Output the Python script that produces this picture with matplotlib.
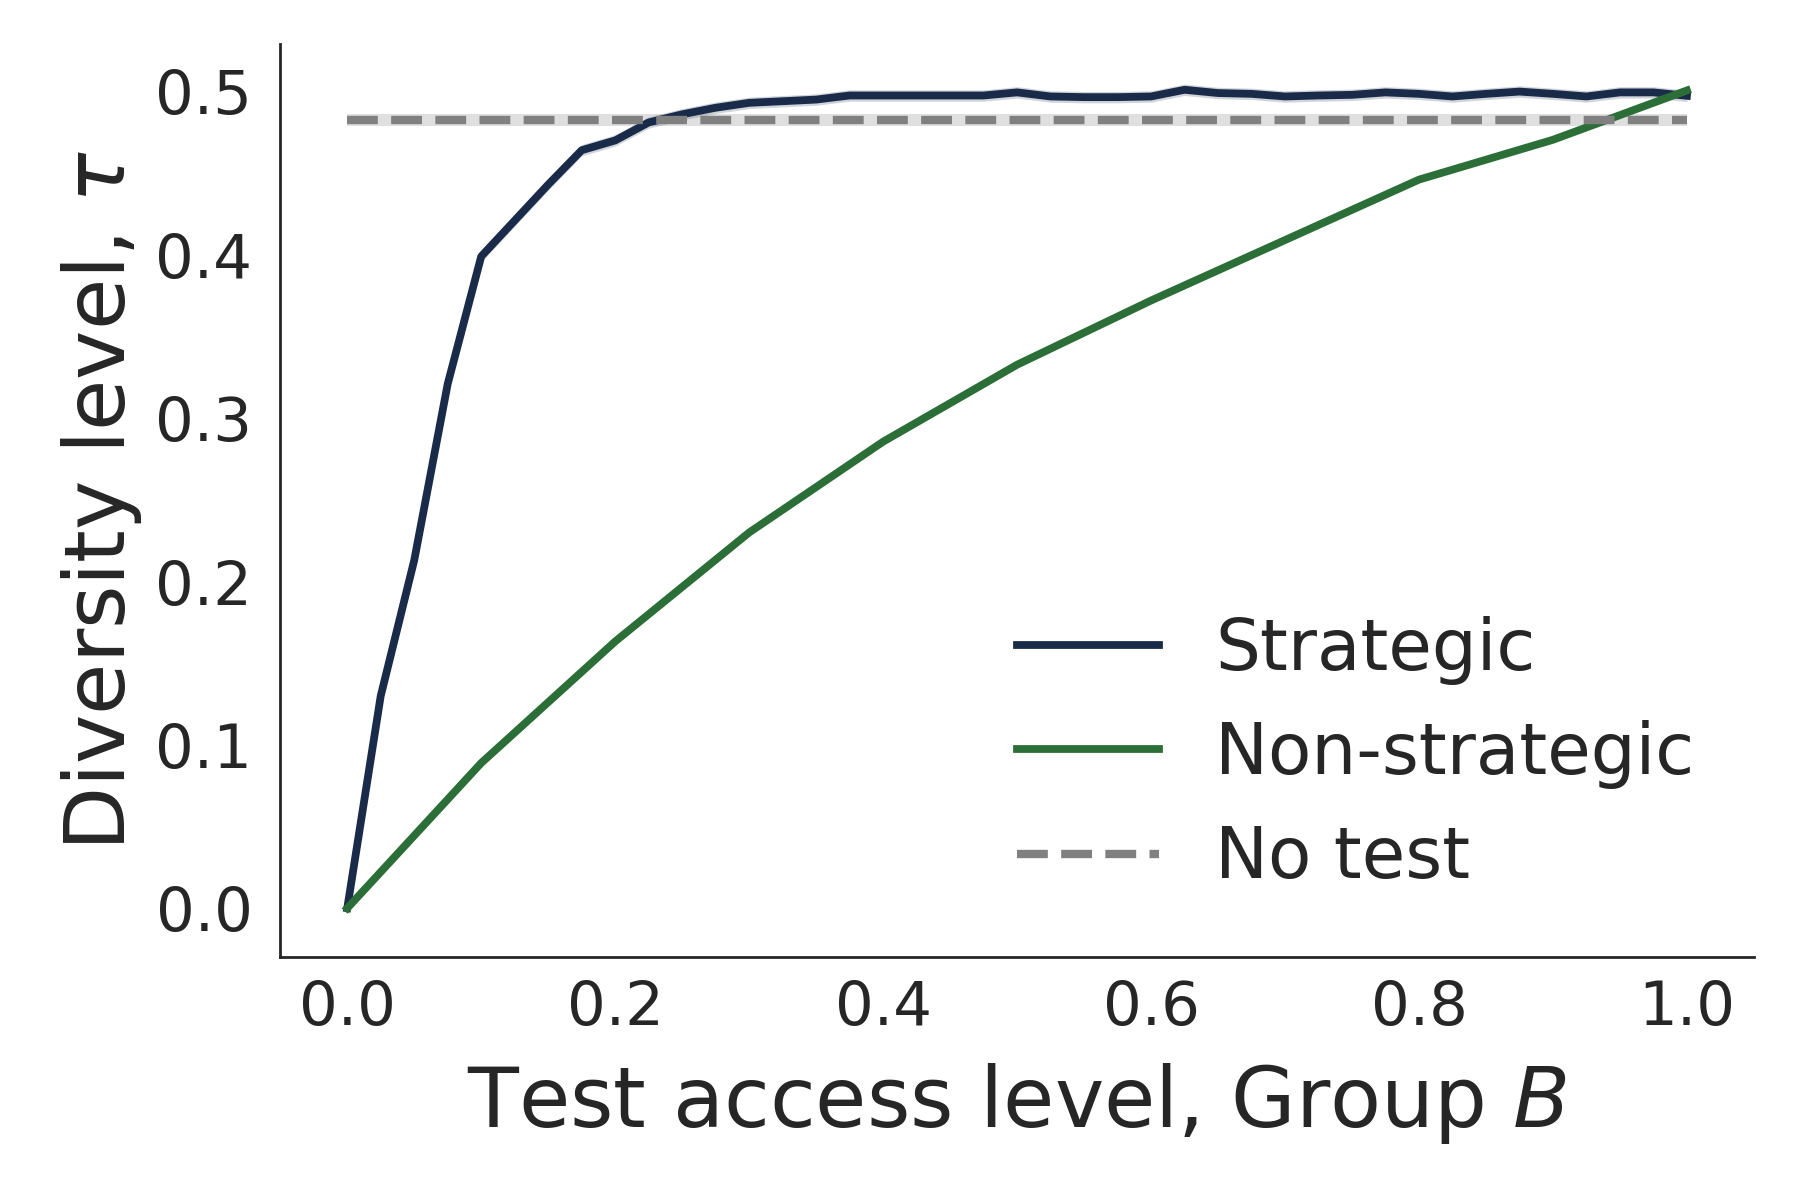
import numpy as np
import matplotlib
matplotlib.use("Agg")
import matplotlib.pyplot as plt

# test access level for group B
x_strat = np.linspace(0, 1, 41)
y_strat = [0.0, 0.130, 0.213, 0.321, 0.399, 0.421, 0.443, 0.464, 0.470, 0.481,
           0.486, 0.490, 0.493, 0.494, 0.495, 0.4975, 0.4975, 0.4975, 0.4975, 0.4975,
           0.4994, 0.4969, 0.4965, 0.4965, 0.4969, 0.501, 0.499, 0.4985, 0.4969, 0.4975,
           0.4979, 0.4994, 0.4985, 0.4969, 0.4985, 0.4999, 0.4985, 0.4969, 0.4994, 0.4994,
           0.4973]

x_nonstrat = [0.0, 0.1, 0.2, 0.3, 0.4, 0.5, 0.6, 0.7, 0.8, 0.9, 1.0]
y_nonstrat = [0.0, 0.0889, 0.1633, 0.230, 0.2856, 0.3327, 0.372, 0.409, 0.446, 0.4704, 0.5006]

x_notest = [0.0, 1.0]
y_notest = [0.4825, 0.4825]

# rough error band half-widths
band_strat = 0.0035
band_notest = 0.0038

c_strat = "#1a2b4a"
c_nonstrat = "#2c6e37"
c_notest = "#808080"
txt = "#262626"

plt.rcParams["font.family"] = "DejaVu Sans"
plt.rcParams["mathtext.fontset"] = "dejavusans"

fig = plt.figure(figsize=(9, 6), dpi=200)
ax = fig.add_axes([0.1557, 0.2023, 0.8187, 0.761])

ys = np.array(y_strat)
ax.fill_between(x_strat, ys - band_strat, ys + band_strat, color=c_strat, alpha=0.2, lw=0)
ax.plot(x_strat, y_strat, color=c_strat, lw=2.8, label="Strategic")
ax.plot(x_nonstrat, y_nonstrat, color=c_nonstrat, lw=2.8, label="Non-strategic")
yn = np.array(y_notest)
ax.fill_between(x_notest, yn - band_notest, yn + band_notest, color=c_notest, alpha=0.25, lw=0)
ax.plot(x_notest, y_notest, color=c_notest, lw=3.0, ls="--", label="No test")

ax.set_xlim(-0.05, 1.05)
ax.set_ylim(-0.03, 0.529)
ax.set_xticks([0.0, 0.2, 0.4, 0.6, 0.8, 1.0])
ax.set_yticks([0.0, 0.1, 0.2, 0.3, 0.4, 0.5])

for s in ["top", "right"]:
    ax.spines[s].set_visible(False)
for s in ["left", "bottom"]:
    ax.spines[s].set_color(txt)
    ax.spines[s].set_linewidth(1.0)

ax.tick_params(axis="both", length=0, labelsize=22, colors=txt)
ax.tick_params(axis="y", pad=10)
ax.tick_params(axis="x", pad=8)

ax.set_xlabel("Test access level, Group $B$", fontsize=30, color=txt, labelpad=8)
ax.set_ylabel("Diversity level, $\\tau$", fontsize=30, color=txt, labelpad=4)

leg = ax.legend(loc="lower right", frameon=False, fontsize=25.5, labelspacing=0.5,
                bbox_to_anchor=(1.003, 0.0))
for t in leg.get_texts():
    t.set_color(txt)

fig.savefig("out.png", dpi=200, facecolor="white")
